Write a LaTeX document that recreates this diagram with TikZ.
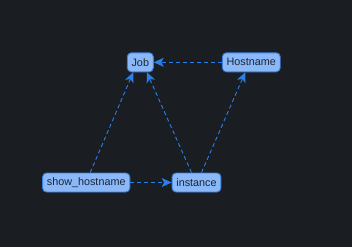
\documentclass[tikz,border=0pt]{standalone}
\usepackage{fontspec}
\setmainfont{Liberation Sans}
\usetikzlibrary{arrows.meta,calc}
\definecolor{bg}{HTML}{1A1D21}
\definecolor{nodefill}{HTML}{8AB8F8}
\definecolor{nodeline}{HTML}{3A7EE0}
\definecolor{edgecol}{HTML}{2B80E8}
\definecolor{txt}{HTML}{1C2633}
\begin{document}
\begin{tikzpicture}[x=1pt,y=-1pt,
  box/.style={draw=nodeline, fill=nodefill, line width=0.9pt, rounded corners=4pt,
    minimum height=19pt, inner xsep=4.3pt, inner ysep=0pt,
    font=\fontsize{10.8pt}{12pt}\selectfont, text=txt},
  link/.style={draw=edgecol, line width=0.9pt, dash pattern=on 4pt off 3pt,
    -{Stealth[length=10pt,width=9pt,inset=2.5pt]}}]
  % canvas
  \fill[bg] (0,0) rectangle (352,247);
  \useasboundingbox (0,0) rectangle (352,247);
  % nodes
  \node[box] (job) at (140.3,62.3) {Job};
  \node[box] (host) at (251.3,62.3) {Hostname};
  \node[box] (show) at (86.2,182.5) {show\_hostname};
  \node[box] (inst) at (196.5,182.5) {instance};
  % connectors
  \draw[link] (host.west) -- (job.east);
  \draw[link] (show.east) -- (inst.west);
  \draw[link] ($(show.north)+(4,0)$) -- ($(job.south)+(-7,0)$);
  \draw[link] ($(inst.north)+(-5,0)$) -- ($(job.south)+(6.5,0)$);
  \draw[link] ($(inst.north)+(5,0)$) -- ($(host.south)+(-6,0)$);
\end{tikzpicture}
\end{document}
